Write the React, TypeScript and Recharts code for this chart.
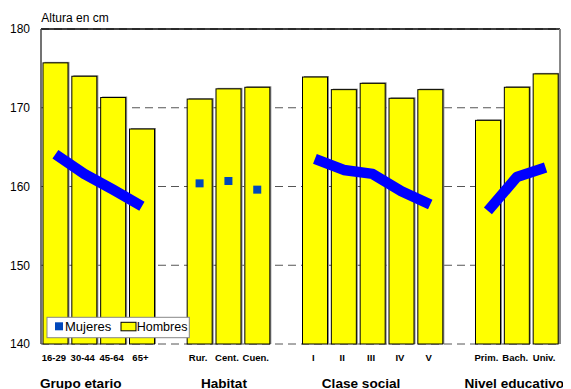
import React from "react";
import {
  ComposedChart,
  Bar,
  Line,
  XAxis,
  YAxis,
  CartesianGrid,
  ReferenceLine,
} from "recharts";

const categories = [
  "16-29", "30-44", "45-64", "65+", "",
  "Rur.", "Cent.", "Cuen.", "",
  "I", "II", "III", "IV", "V", "",
  "Prim.", "Bach.", "Univ.",
];

const hombres = [
  175.7, 174.0, 171.3, 167.3, null,
  171.1, 172.4, 172.6, null,
  173.9, 172.3, 173.1, 171.2, 172.3, null,
  168.4, 172.6, 174.3,
];

const mujeresLinea = [
  164.1, 161.6, 159.6, 157.5, null,
  null, null, null, null,
  163.5, 162.1, 161.6, 159.4, 157.7, null,
  156.9, 161.2, 162.4,
];

const mujeresPuntos = [
  null, null, null, null, null,
  160.4, 160.7, 159.6, null,
  null, null, null, null, null, null,
  null, null, null,
];

const groupNames = ["Grupo etario", "Habitat", "Clase social", "Nivel educativo"];
const groupAnchorIndex = [1, 6, 11, 16];

const yTicks = [140, 150, 160, 170, 180];

// layout-only offsets for group labels (px)
const groupLabelDx = [-3.5, -4.5, -11.5, -2.5];

const data = categories.map((name, i) => ({
  name,
  hombres: hombres[i],
  mujeresLinea: mujeresLinea[i],
  mujeresPuntos: mujeresPuntos[i],
}));

const FONT = "'Liberation Sans', Arial, sans-serif";

const ShadowBar = (props: any) => {
  const { x, y, width, height } = props;
  if (height == null || isNaN(height) || height <= 0) return null;
  return (
    <g>
      <rect x={x + 1.5} y={y - 1} width={width} height={height + 1} fill="#8a8a8a" />
      <rect x={x} y={y} width={width} height={height} fill="#FFFF00" stroke="#000" strokeWidth={1} />
    </g>
  );
};

const SquareDot = (props: any) => {
  const { cx, cy, value, index } = props;
  if (value == null || cx == null || cy == null) return <g key={"d" + index} />;
  return <rect key={"d" + index} x={cx - 4} y={cy - 4} width={8} height={8} fill="#0047BB" />;
};

const XTick = (props: any) => {
  const { x, y, payload, index } = props;
  const idx = payload && payload.index != null ? payload.index : index;
  const g = groupAnchorIndex.indexOf(idx);
  return (
    <g>
      {payload.value ? (
        <text x={x - 1.5} y={y + 17} textAnchor="middle" fontFamily={FONT} fontWeight="bold" fontSize={9.5} fill="#000">
          {payload.value}
        </text>
      ) : null}
      {g >= 0 ? (
        <text x={x + groupLabelDx[g]} y={y + 43.5} textAnchor="middle" fontFamily={FONT} fontWeight="bold" fontSize={13.6} fill="#000">
          {groupNames[g]}
        </text>
      ) : null}
    </g>
  );
};

export default function App() {
  return (
    <div style={{ position: "relative", width: 563, height: 381 }}>
      <ComposedChart
        width={563}
        height={381}
        data={data}
        margin={{ top: 21, right: 10, bottom: 0, left: 0 }}
      >
        <CartesianGrid yAxisId="left" vertical={false} stroke="#555" strokeDasharray="8 5" />
        <XAxis
          dataKey="name"
          interval={0}
          height={45}
          axisLine={false}
          tickLine={false}
          tickSize={0}
          tickMargin={0}
          tick={<XTick />}
        />
        <YAxis
          yAxisId="left"
          domain={[140, 180]}
          ticks={yTicks}
          width={33}
          tickLine={false}
          tickSize={6}
          tickMargin={5}
          axisLine={{ stroke: "#444", strokeWidth: 1.5 }}
          tick={{ fill: "#000", fontSize: 12, fontFamily: FONT }}
        />
        <YAxis
          yAxisId="right"
          orientation="right"
          domain={[140, 180]}
          width={1}
          tick={false}
          tickLine={false}
          axisLine={{ stroke: "#888", strokeWidth: 2 }}
        />
        <ReferenceLine yAxisId="left" y={180} stroke="#000" strokeWidth={1.5} />
        <Bar yAxisId="left" dataKey="hombres" barSize={25} shape={<ShadowBar />} isAnimationActive={false} />
        <Line
          yAxisId="left"
          type="linear"
          dataKey="mujeresLinea"
          stroke="#0000FF"
          strokeWidth={10.5}
          strokeLinecap="butt"
          strokeLinejoin="round"
          dot={false}
          activeDot={false}
          connectNulls={false}
          isAnimationActive={false}
        />
        <Line
          yAxisId="left"
          type="linear"
          dataKey="mujeresPuntos"
          stroke="none"
          dot={<SquareDot />}
          activeDot={false}
          connectNulls={false}
          isAnimationActive={false}
        />
      </ComposedChart>
      <svg
        width={563}
        height={381}
        style={{ position: "absolute", left: 0, top: 0, pointerEvents: "none" }}
      >
        <text x={33.3} y={14} fontFamily={FONT} fontSize={12} fill="#000">
          Altura en cm
        </text>
        <rect x={39} y={309.3} width={142.3} height={20.4} fill="#fff" stroke="#888" strokeWidth={1} />
        <rect x={47} y={314.3} width={8} height={8} fill="#0047BB" />
        <text x={57} y={323} fontFamily={FONT} fontSize={13} fill="#000">
          Mujeres
        </text>
        <rect x={113} y={314.3} width={15} height={8.5} fill="#FFFF00" stroke="#000" strokeWidth={1} />
        <text x={128.7} y={323} fontFamily={FONT} fontSize={12.5} fill="#000">
          Hombres
        </text>
      </svg>
    </div>
  );
}
